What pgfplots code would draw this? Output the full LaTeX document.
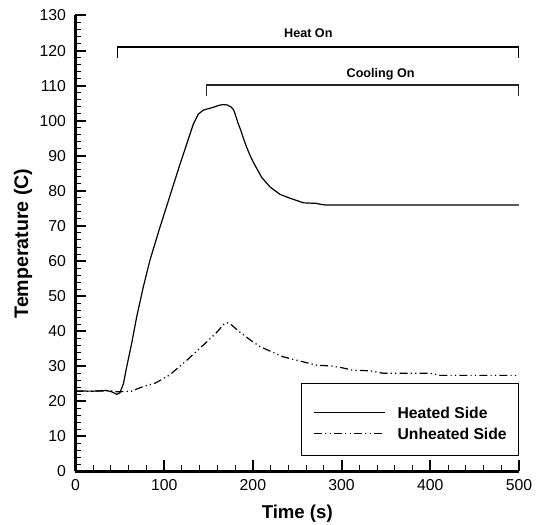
\documentclass[border=0pt]{standalone}
\usepackage{fontspec}
\setmainfont{Liberation Sans}
\usepackage{pgfplots}
\pgfplotsset{compat=1.18}

% heated side thermocouple
\pgfplotstableread{
t T
0 22.95
20 22.9
35 23.1
41 22.7
46.5 22.0
50 22.4
54 25.0
57.7 29.8
63.3 36.5
69 44.1
76.5 52.7
84 60.3
95.3 69.7
106.5 78.6
117.8 87.6
125.3 93.3
132.8 99.0
138.5 101.9
144 103.0
148 103.3
155 103.8
162 104.4
166 104.6
171 104.5
175 104.0
178 103.2
180 101.9
183 99.5
186 97.5
190 94.5
193 92.4
197 90.0
200.6 88.1
210 83.8
219.4 81.1
230.6 79.0
241.9 77.9
257 76.6
265 76.5
270 76.5
276 76.2
281 76.0
500 76.0
}\heated

% unheated side thermocouple
\pgfplotstableread{
t T
0 22.9
20 22.9
40 23.0
47 22.7
63 22.9
76 24.2
90 25.2
106 27.5
125 31.6
144 36.0
159 39.6
168 42.2
171 42.4
175 42.0
182 40.4
197 37.5
208 35.6
234 32.7
253 31.5
272 30.3
288 30.1
300 29.6
312 28.9
332 28.7
347 28.0
400 28.0
411 27.4
500 27.4
}\unheated

\begin{document}
\begin{tikzpicture}
\useasboundingbox (-37.75pt,-26.75pt) rectangle (230.75pt,235.75pt);
\begin{axis}[
    scale only axis, width=221.75pt, height=228pt,
    xmin=0, xmax=500, ymin=0, ymax=130,
    xtick={0,100,...,500}, ytick={0,10,...,130},
    minor x tick num=4, minor y tick num=4,
    axis lines*=left,
    axis line style={line width=1.35pt, -},
    tick align=inside,
    major tick length=5.5pt, minor tick length=3pt,
    major tick style={line width=1pt, black},
    minor tick style={line width=0.5pt, black},
    /pgf/number format/assume math mode=true,
    tick label style={font=\fontsize{7.9}{9}\selectfont},
    yticklabel style={xshift=-1.2pt},
    xticklabel style={yshift=-0.5pt},
    xlabel={\bfseries Time (s)}, ylabel={\bfseries Temperature (C)},
    every axis x label/.style={at={(axis description cs:0.5,-0.0932)}, anchor=center, font=\fontsize{9.3}{11}\selectfont},
    every axis y label/.style={at={(axis description cs:-0.1184,0.5)}, rotate=90, anchor=center, font=\fontsize{9.8}{11}\selectfont},
    legend style={at={(axis description cs:1,0.0338)}, anchor=south east,
        draw=black, line width=0.6pt, fill=white,
        font=\bfseries\fontsize{7.85}{9}\selectfont,
        inner xsep=5.85pt, inner ysep=6.35pt, row sep=3.15pt, column sep=6pt,
        nodes={inner sep=0pt, text depth=}, cells={anchor=base west}},
    legend image code/.code={\draw[#1] (0pt,2.8pt) -- (35.5pt,2.8pt);},
]
\addplot[black, line width=0.6pt] table[x=t, y=T] {\heated};
\addlegendentry{\rule[-1.7pt]{0pt}{12.65pt}Heated Side}
\addplot[black, line width=0.6pt, dash pattern=on 4pt off 1.6pt on 0.6pt off 1.6pt on 0.6pt off 1.6pt] table[x=t, y=T] {\unheated};
\addlegendentry{\rule[-1.7pt]{0pt}{7.2pt}Unheated Side}

% heating / cooling periods
\draw[black, line width=0.65pt] (axis cs:47,118) -- (axis cs:47,121) -- (axis cs:500,121) -- (axis cs:500,118);
\draw[black!85, line width=0.65pt] (axis cs:148,107) -- (axis cs:148,110.2) -- (axis cs:500,110.2) -- (axis cs:500,107);
\node[font=\bfseries\fontsize{6.3}{8}\selectfont] at (axis cs:262.5,124.9) {Heat On};
\node[font=\bfseries\fontsize{6.3}{8}\selectfont] at (axis cs:344,113.2) {Cooling On};
\end{axis}
\end{tikzpicture}
\end{document}
